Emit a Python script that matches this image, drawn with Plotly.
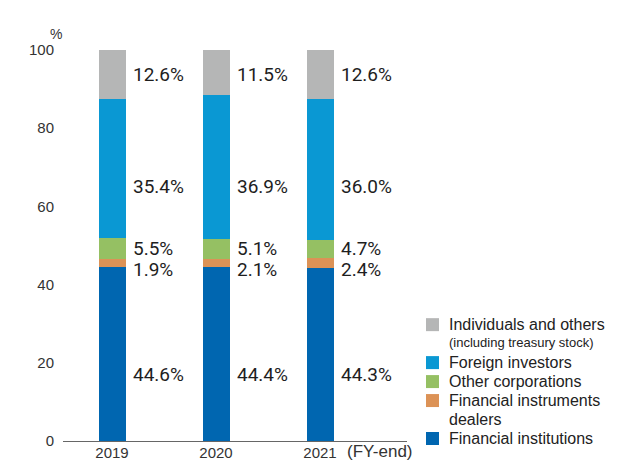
import plotly.graph_objects as go

# Fiscal years on the x axis
years = ["2019", "2020", "2021"]

# Shareholding ratio by owner type (%), stacked bottom to top
financial_institutions = [44.6, 44.4, 44.3]
financial_instruments_dealers = [1.9, 2.1, 2.4]
other_corporations = [5.5, 5.1, 4.7]
foreign_investors = [35.4, 36.9, 36.0]
individuals_and_others = [12.6, 11.5, 12.6]

y_ticks = [0, 20, 40, 60, 80, 100]

series = [
    ("Financial institutions", financial_institutions, "#0066b0"),
    ("Financial instruments dealers", financial_instruments_dealers, "#dc9256"),
    ("Other corporations", other_corporations, "#95c063"),
    ("Foreign investors", foreign_investors, "#0a98d3"),
    ("Individuals and others", individuals_and_others, "#b5b6b6"),
]

# Legend lines, top to bottom: (main text, second line, smaller second line?)
legend_rows = [
    ("Individuals and others", "(including treasury stock)", True),
    ("Foreign investors", None, False),
    ("Other corporations", None, False),
    ("Financial instruments", "dealers", False),
    ("Financial institutions", None, False),
]

# ---- layout geometry (pixels) ----
W, H = 620, 462
ML, MR, MT, MB = 63, 213, 50, 20.5
PW, PH = W - ML - MR, H - MT - MB
SPACING = 104          # px between bar centres
FIRST_CENTER = 112     # px, centre of first bar
BAR_W = 27             # px

x0 = -(FIRST_CENTER - ML) / SPACING
x1 = x0 + PW / SPACING

# vertical position (in %) of the value labels for each series
label_levels = [16.9, 43.9, 49.2, 65.1, 93.7]


def px_x(px):
    return (px - ML) / PW


def px_y(py):
    return (H - MB - py) / PH


xs = list(range(len(years)))
fig = go.Figure()
for name, vals, color in series:
    fig.add_trace(go.Bar(
        x=xs, y=vals, name=name, width=BAR_W / SPACING,
        marker=dict(color=color, line=dict(width=0)),
        showlegend=False, hoverinfo="y+name",
    ))

annotations = []
value_font = dict(family="Roboto, sans-serif", size=19, color="#1e1e1e")
for (name, vals, color), level in zip(series, label_levels):
    for i, v in enumerate(vals):
        annotations.append(dict(
            x=i, y=level, xref="x", yref="y", text=f"{v:.1f}%",
            xanchor="left", yanchor="middle", xshift=BAR_W / 2 + 5,
            showarrow=False, font=value_font,
        ))

# unit label and fiscal-year note
annotations.append(dict(x=px_x(48), y=px_y(24), xref="paper", yref="paper",
                        text="%", showarrow=False,
                        font=dict(family="Liberation Sans", size=14, color="#333333")))
annotations.append(dict(x=px_x(345), y=px_y(452.5), xref="paper", yref="paper",
                        text="(FY-end)", showarrow=False, xanchor="left", yanchor="middle",
                        font=dict(family="Liberation Sans", size=17, color="#333333")))

# custom legend: colour squares with labels
color_by_name = {n: c for n, _, c in series}
legend_colors = [color_by_name[n] for n, _, _ in reversed(series)]
shapes = []
row_y = 325
LINE = 19
legend_font = dict(family="Liberation Sans", size=16, color="#222222")
for (text, second, small), color in zip(legend_rows, legend_colors):
    shapes.append(dict(type="rect", xref="paper", yref="paper",
                       x0=px_x(426), x1=px_x(439),
                       y0=px_y(row_y + 6.5), y1=px_y(row_y - 6.5),
                       fillcolor=color, line=dict(width=0)))
    annotations.append(dict(x=px_x(447), y=px_y(row_y), xref="paper", yref="paper",
                            text=text, showarrow=False, xanchor="left", yanchor="middle",
                            font=legend_font))
    row_y += LINE
    if second:
        f = dict(legend_font)
        if small:
            f["size"] = 13
        annotations.append(dict(x=px_x(447), y=px_y(row_y - (1 if small else 0)),
                                xref="paper", yref="paper", text=second, showarrow=False,
                                xanchor="left", yanchor="middle", font=f))
        row_y += LINE

fig.update_layout(
    width=W, height=H,
    margin=dict(l=ML, r=MR, t=MT, b=MB, autoexpand=False),
    paper_bgcolor="white", plot_bgcolor="white",
    barmode="stack", bargap=0,
    xaxis=dict(range=[x0, x1], tickmode="array", tickvals=xs, ticktext=years,
               showgrid=False, zeroline=False, showline=True, linecolor="#666666",
               linewidth=1.2, ticks="", ticklabelstandoff=-2, automargin=False,
               tickfont=dict(family="Liberation Sans", size=15, color="#333333")),
    yaxis=dict(range=[0, 100], tickmode="array", tickvals=y_ticks,
               showgrid=False, zeroline=False, showline=False, ticks="",
               ticklabelstandoff=8, automargin=False,
               tickfont=dict(family="Liberation Sans", size=15, color="#333333")),
    annotations=annotations, shapes=shapes,
    showlegend=False,
)

fig.write_html("out.html")
